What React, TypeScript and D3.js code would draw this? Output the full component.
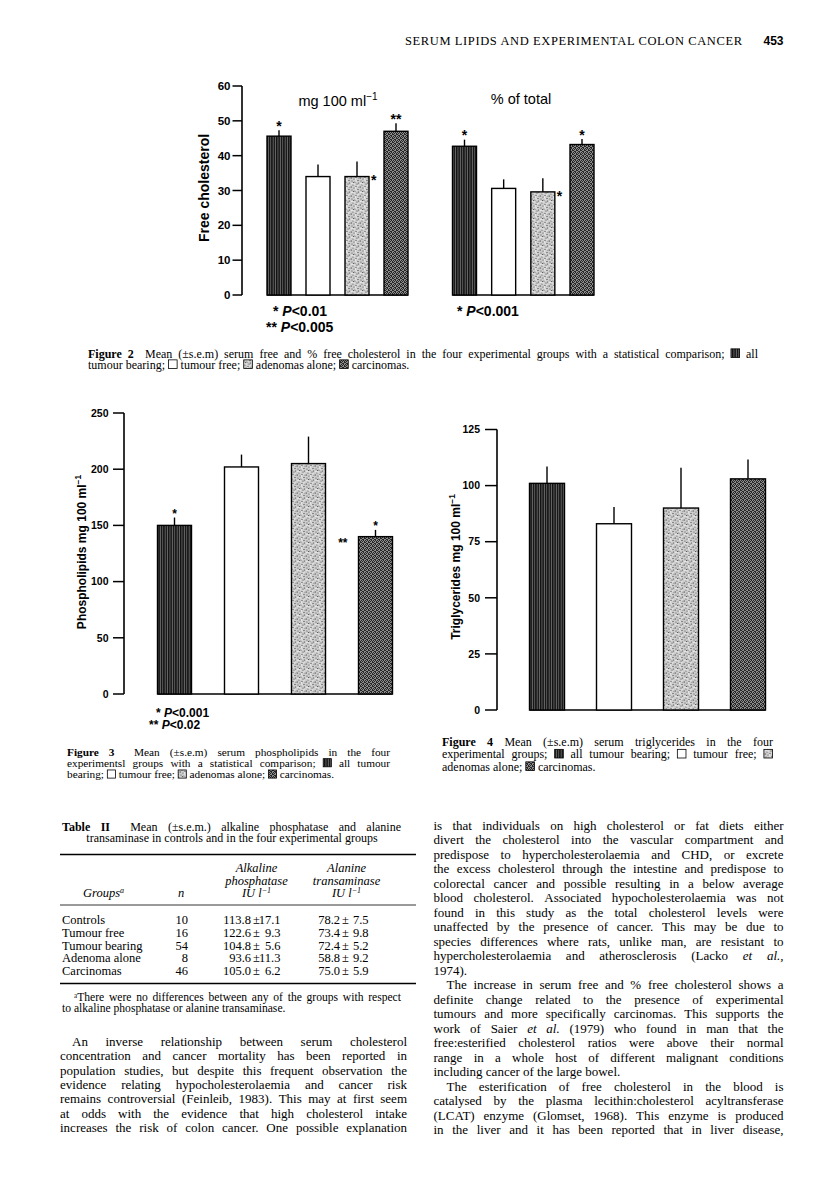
import React from "react";
import * as d3 from "d3";

// ---------- DATA ----------
const groups = ["All tumour bearing", "Tumour free", "Adenomas alone", "Carcinomas"];

const fig2MgMean = [45.6, 34.0, 34.0, 47.0];
const fig2MgSem = [1.7, 3.5, 4.3, 2.3];
const fig2PctMean = [42.7, 30.6, 29.6, 43.2];
const fig2PctSem = [1.9, 2.6, 3.9, 1.6];
const fig2Ticks = [0, 10, 20, 30, 40, 50, 60];

const fig3Mean = [150, 202, 205, 140];
const fig3Sem = [7, 11, 24, 6];
const fig3Ticks = [0, 50, 100, 150, 200, 250];

const fig4Mean = [101, 83, 90, 103];
const fig4Sem = [7.5, 7.5, 18, 8.6];
const fig4Ticks = [0, 25, 50, 75, 100, 125];

const tableGroups = ["Controls", "Tumour free", "Tumour bearing", "Adenoma alone", "Carcinomas"];
const tableN = [10, 16, 54, 8, 46];
const alkMean = [113.8, 122.6, 104.8, 93.6, 105.0];
const alkSem = [17.1, 9.3, 5.6, 11.3, 6.2];
const altMean = [78.2, 73.4, 72.4, 58.8, 75.0];
const altSem = [7.5, 9.8, 5.2, 9.2, 5.9];

// star annotations: [bar index, text, placement]
const fig2MgStars: [number, string, string][] = [[0, "*", "top"], [2, "*", "right"], [3, "**", "top"]];
const fig2PctStars: [number, string, string][] = [[0, "*", "top"], [2, "*", "right"], [3, "*", "top"]];
const fig3Stars: [number, string, string][] = [[0, "*", "top"], [3, "*", "top"], [3, "**", "left"]];

const headerText = "SERUM LIPIDS AND EXPERIMENTAL COLON CANCER";
const pageNumber = "453";

const fig2Caption = [
  "*Figure* *2* {sp} Mean (±s.e.m) serum free and % free cholesterol in the four experimental groups with a statistical comparison; {A} all",
  "tumour bearing; {T} tumour free; {D} adenomas alone; {C} carcinomas.|",
];
const fig3Caption = [
  "*Figure* *3* {sp} Mean (±s.e.m) serum phospholipids in the four",
  "experimentsl groups with a statistical comparison; {A} all tumour",
  "bearing; {T} tumour free; {D} adenomas alone; {C} carcinomas.|",
];
const fig4Caption = [
  "*Figure* *4* Mean (±s.e.m) serum triglycerides in the four",
  "experimental groups; {A} all tumour bearing; {T} tumour free; {D}",
  "adenomas alone; {C} carcinomas.|",
];
const tableTitle1 = "*Table* *II* {sp} Mean (±s.e.m.) alkaline phosphatase and alanine";
const tableTitle2 = "transaminase in controls and in the four experimental groups";
const tableFoot = [
  "ᵃThere were no differences between any of the groups with respect",
  "to alkaline phosphatase or alanine transaminase.|",
];

const leftBody = [
  ">An inverse relationship between serum cholesterol",
  "concentration and cancer mortality has been reported in",
  "population studies, but despite this frequent observation the",
  "evidence relating hypocholesterolaemia and cancer risk",
  "remains controversial (Feinleib, 1983). This may at first seem",
  "at odds with the evidence that high cholesterol intake",
  "increases the risk of colon cancer. One possible explanation",
];
const rightBody = [
  "is that individuals on high cholesterol or fat diets either",
  "divert the cholesterol into the vascular compartment and",
  "predispose to hypercholesterolaemia and CHD, or excrete",
  "the excess cholesterol through the intestine and predispose to",
  "colorectal cancer and possible resulting in a below average",
  "blood cholesterol. Associated hypocholesterolaemia was not",
  "found in this study as the total cholesterol levels were",
  "unaffected by the presence of cancer. This may be due to",
  "species differences where rats, unlike man, are resistant to",
  "hypercholesterolaemia and atherosclerosis (Lacko _et_ _al._,",
  "1974).|",
  ">The increase in serum free and % free cholesterol shows a",
  "definite change related to the presence of experimental",
  "tumours and more specifically carcinomas. This supports the",
  "work of Saier _et_ _al._ (1979) who found in man that the",
  "free:esterified cholesterol ratios were above their normal",
  "range in a whole host of different malignant conditions",
  "including cancer of the large bowel.|",
  ">The esterification of free cholesterol in the blood is",
  "catalysed by the plasma lecithin:cholesterol acyltransferase",
  "(LCAT) enzyme (Glomset, 1968). This enzyme is produced",
  "in the liver and it has been reported that in liver disease,",
];

// ---------- STYLE ----------
const SERIF = "'Liberation Serif', 'Times New Roman', serif";
const SANS = "'Liberation Sans', Arial, Helvetica, sans-serif";
const groupFill = ["url(#pStripe)", "#ffffff", "url(#pStipple)", "url(#pCheck)"];
const iconFill: Record<string, string> = { A: "url(#pStripe)", T: "#fff", D: "url(#pStipple)", C: "url(#pCheck)" };
const stippleDark = [[1, 1], [4, 2], [7, 0.5], [2, 5], [6, 4], [8, 7], [3, 8], [5, 6.5], [0.5, 7], [7.5, 3], [2.5, 2.5]];
const stippleLight = [[3, 4], [7, 6], [1, 3.5], [5, 1], [4.5, 8]];
const checkLight = [[0, 0], [2, 0], [1, 1], [3, 2], [0, 3], [2, 2], [1, 3], [3, 1]];

// ---------- TEXT HELPERS ----------
let ctx: CanvasRenderingContext2D | null = null;
function measure(text: string, size: number, italic: boolean, bold: boolean) {
  if (!ctx) ctx = document.createElement("canvas").getContext("2d");
  ctx!.font = `${italic ? "italic " : ""}${bold ? "bold " : ""}${size}px "Liberation Serif"`;
  return ctx!.measureText(text).width;
}

type Tok = { t: string; italic: boolean; bold: boolean; icon?: string; spacer?: boolean };
function parseTok(s: string): Tok {
  const m = s.match(/^\{([ATDC])\}$/);
  if (m) return { t: "", italic: false, bold: false, icon: m[1] };
  if (s === "{sp}") return { t: "", italic: false, bold: false, spacer: true };
  if (s.startsWith("_")) return { t: s.replace(/_/g, ""), italic: true, bold: false };
  if (s.startsWith("*") && s.length > 1) return { t: s.replace(/\*/g, ""), italic: false, bold: true };
  return { t: s, italic: false, bold: false };
}

function TextLine({ line, x0, x1, y, size, indent = 0 }: { line: string; x0: number; x1: number; y: number; size: number; indent?: number }) {
  let s = line;
  let justify = true;
  let start = x0;
  if (s.startsWith(">")) { s = s.slice(1); start = x0 + indent; }
  if (s.endsWith("|")) { s = s.slice(0, -1); justify = false; }
  const toks = s.split(" ").map(parseTok);
  const widths = toks.map((k) => (k.icon ? size * 0.8 : k.spacer ? -size * 0.05 : measure(k.t, size, k.italic, k.bold)));
  const total = widths.reduce((a, b) => a + b, 0);
  const space = measure(" ", size, false, false);
  let gap = space;
  if (justify && toks.length > 1) gap = Math.max(1.2, (x1 - start - total) / (toks.length - 1));
  let x = start;
  const els: React.ReactNode[] = [];
  toks.forEach((k, i) => {
    if (k.icon) {
      const b = size * 0.72;
      els.push(
        <rect key={i} x={x + 0.5} y={y - b} width={b} height={b} fill={iconFill[k.icon]} stroke="#000" strokeWidth={0.8} />
      );
    } else if (!k.spacer) {
      els.push(
        <text key={i} x={x} y={y} fontFamily={SERIF} fontSize={size} fontStyle={k.italic ? "italic" : "normal"} fontWeight={k.bold ? "bold" : "normal"}>
          {k.t}
        </text>
      );
    }
    x += widths[i] + gap;
  });
  return <g>{els}</g>;
}

function Block({ lines, x0, x1, y0, dy, size, indent = 0 }: { lines: string[]; x0: number; x1: number; y0: number; dy: number; size: number; indent?: number }) {
  return (
    <g>
      {lines.map((l, i) => (
        <TextLine key={i} line={l} x0={x0} x1={x1} y={y0 + i * dy} size={size} indent={indent} />
      ))}
    </g>
  );
}

// ---------- CHART HELPERS ----------
function Axis({ y, x, ticks, tickLen, labelGap, fontSize }: { y: d3.ScaleLinear<number, number>; x: number; ticks: number[]; tickLen: number; labelGap: number; fontSize: number }) {
  const [lo, hi] = y.domain();
  return (
    <g>
      <line x1={x} x2={x} y1={y(lo)} y2={y(hi)} stroke="#000" strokeWidth={1.6} />
      {ticks.map((t) => (
        <g key={t}>
          <line x1={x - tickLen} x2={x} y1={y(t)} y2={y(t)} stroke="#000" strokeWidth={1.5} />
          <text x={x - tickLen - labelGap} y={y(t)} dy="0.36em" textAnchor="end" fontFamily={SANS} fontWeight="bold" fontSize={fontSize}>
            {t}
          </text>
        </g>
      ))}
    </g>
  );
}

function Bars({ x, y, means, sems, width, stars, starSize, leftOffset = 10 }: { x: d3.ScalePoint<string>; y: d3.ScaleLinear<number, number>; means: number[]; sems: number[]; width: number; stars: [number, string, string][]; starSize: number; leftOffset?: number }) {
  const y0 = y(0);
  const first = x(groups[0])! - width / 2;
  const last = x(groups[groups.length - 1])! + width / 2;
  return (
    <g>
      <line x1={first} x2={last} y1={y0} y2={y0} stroke="#000" strokeWidth={1.5} />
      {groups.map((g, i) => {
        const c = x(g)!;
        return (
          <g key={g}>
            <line x1={c} x2={c} y1={y(means[i])} y2={y(means[i] + sems[i])} stroke="#000" strokeWidth={1.4} />
            <rect x={c - width / 2} y={y(means[i])} width={width} height={y0 - y(means[i])} fill={groupFill[i]} stroke="#000" strokeWidth={1.4} />
          </g>
        );
      })}
      {stars.map(([i, s, pos], k) => {
        const c = x(groups[i])!;
        if (pos === "top")
          return (
            <text key={k} x={c} y={y(means[i] + sems[i]) + starSize * 0.05} textAnchor="middle" fontFamily={SANS} fontWeight="bold" fontSize={starSize}>
              {s}
            </text>
          );
        if (pos === "right")
          return (
            <text key={k} x={c + width / 2 + 2} y={y(means[i]) + starSize * 0.62} fontFamily={SANS} fontWeight="bold" fontSize={starSize}>
              {s}
            </text>
          );
        return (
          <text key={k} x={c - width / 2 - leftOffset} y={y(means[i]) + starSize * 0.85} textAnchor="end" fontFamily={SANS} fontWeight="bold" fontSize={starSize}>
            {s}
          </text>
        );
      })}
    </g>
  );
}

function PLabel({ x, y, stars, p, size }: { x: number; y: number; stars: string; p: string; size: number }) {
  return (
    <text x={x} y={y} fontFamily={SANS} fontWeight="bold" fontSize={size}>
      {stars} <tspan fontStyle="italic">P</tspan>
      {p}
    </text>
  );
}

function YLabel({ x, y, text, sup, size }: { x: number; y: number; text: string; sup?: string; size: number }) {
  return (
    <text transform={`translate(${x},${y}) rotate(-90)`} textAnchor="middle" fontFamily={SANS} fontWeight="bold" fontSize={size}>
      {text}
      {sup && (
        <tspan fontSize={size * 0.7} dy={-size * 0.4}>
          {sup}
        </tspan>
      )}
    </text>
  );
}

export default function App() {
  // Figure 2
  const y2 = d3.scaleLinear().domain([0, 60]).range([295, 86]);
  const x2a = d3.scalePoint<string>().domain(groups).range([279, 396]);
  const x2b = d3.scalePoint<string>().domain(groups).range([464.5, 582]);
  // Figure 3
  const y3 = d3.scaleLinear().domain([0, 250]).range([694, 413]);
  const x3 = d3.scalePoint<string>().domain(groups).range([174.5, 375.5]);
  // Figure 4
  const y4 = d3.scaleLinear().domain([0, 125]).range([710, 429.5]);
  const x4 = d3.scalePoint<string>().domain(groups).range([547, 748]);
  // Table
  const rowY = d3.scalePoint<string>().domain(tableGroups).range([924, 975]);

  const tsize = 12.5;
  const fmt = d3.format(".1f");

  return (
    <svg width={816} height={1201} style={{ position: "absolute", left: 0, top: 0, background: "#fff" }}>
      <defs>
        <pattern id="pStripe" width={2.4} height={4} patternUnits="userSpaceOnUse">
          <rect width={2.4} height={4} fill="#111" />
          <rect x={1.5} width={0.7} height={4} fill="#8a8a8a" />
        </pattern>
        <pattern id="pCheck" width={4} height={4} patternUnits="userSpaceOnUse">
          <rect width={4} height={4} fill="#262626" />
          {checkLight.map(([a, b], i) => (
            <rect key={i} x={a} y={b} width={1} height={1} fill="#8c8c8c" />
          ))}
        </pattern>
        <pattern id="pStipple" width={9} height={9} patternUnits="userSpaceOnUse">
          <rect width={9} height={9} fill="#cdcdcd" />
          {stippleDark.map(([a, b], i) => (
            <circle key={"d" + i} cx={a} cy={b} r={0.6} fill="#4a4a4a" />
          ))}
          {stippleLight.map(([a, b], i) => (
            <circle key={"l" + i} cx={a} cy={b} r={0.7} fill="#f4f4f4" />
          ))}
        </pattern>
      </defs>
      <rect width={816} height={1201} fill="#fff" />

      {/* Header */}
      <text x={405} y={44.5} fontFamily={SERIF} fontSize={12.5} textLength={337} lengthAdjust="spacing">
        {headerText}
      </text>
      <text x={783.5} y={44.5} textAnchor="end" fontFamily={SANS} fontWeight="bold" fontSize={12}>
        {pageNumber}
      </text>

      {/* Figure 2 */}
      <Axis y={y2} x={242} ticks={fig2Ticks} tickLen={9.5} labelGap={2} fontSize={11.5} />
      <YLabel x={209} y={188} text="Free cholesterol" size={14} />
      <text x={338} y={105.5} textAnchor="middle" fontFamily={SANS} fontSize={14.5}>
        mg 100 ml<tspan fontSize={10} dy={-6}>−1</tspan>
      </text>
      <text x={521} y={103.5} textAnchor="middle" fontFamily={SANS} fontSize={14.5}>
        % of total
      </text>
      <Bars x={x2a} y={y2} means={fig2MgMean} sems={fig2MgSem} width={24} stars={fig2MgStars} starSize={14} />
      <Bars x={x2b} y={y2} means={fig2PctMean} sems={fig2PctSem} width={24} stars={fig2PctStars} starSize={14} />
      <PLabel x={273} y={315.5} stars="*" p="<0.01" size={14} />
      <PLabel x={266} y={331.5} stars="**" p="<0.005" size={14} />
      <PLabel x={457} y={315.5} stars="*" p="<0.001" size={14} />

      <Block lines={fig2Caption} x0={88} x1={758} y0={357.5} dy={11} size={12} />

      {/* Figure 3 */}
      <Axis y={y3} x={124} ticks={fig3Ticks} tickLen={11} labelGap={4.5} fontSize={10.5} />
      <YLabel x={86} y={552} text="Phospholipids mg 100 ml" sup="−1" size={12} />
      <Bars x={x3} y={y3} means={fig3Mean} sems={fig3Sem} width={34} stars={fig3Stars} starSize={12} leftOffset={11} />
      <PLabel x={156} y={717} stars="*" p="<0.001" size={12} />
      <PLabel x={149} y={728.5} stars="**" p="<0.02" size={12} />
      <Block lines={fig3Caption} x0={67} x1={390} y0={755.5} dy={11.3} size={11.3} />

      {/* Figure 4 */}
      <Axis y={y4} x={497} ticks={fig4Ticks} tickLen={12} labelGap={5} fontSize={10.5} />
      <YLabel x={459.5} y={567} text="Triglycerides mg 100 ml" sup="−1" size={12} />
      <Bars x={x4} y={y4} means={fig4Mean} sems={fig4Sem} width={35} stars={[]} starSize={12} />
      <Block lines={fig4Caption} x0={442} x1={773} y0={745.5} dy={12.5} size={12} />

      {/* Table II */}
      <TextLine line={tableTitle1} x0={62} x1={401} y={830.5} size={12} />
      <text x={232} y={841.8} textAnchor="middle" fontFamily={SERIF} fontSize={12}>
        {tableTitle2}
      </text>
      <line x1={60} x2={416} y1={854.5} y2={854.5} stroke="#000" strokeWidth={1.5} />
      <g fontFamily={SERIF} fontSize={tsize} fontStyle="italic">
        <text x={256.5} y={872} textAnchor="middle">Alkaline</text>
        <text x={256.5} y={884.5} textAnchor="middle">phosphatase</text>
        <text x={256.5} y={897} textAnchor="middle">
          IU l<tspan fontSize={8} dy={-4.5}>−1</tspan>
        </text>
        <text x={346.5} y={872} textAnchor="middle">Alanine</text>
        <text x={346.5} y={884.5} textAnchor="middle">transaminase</text>
        <text x={346.5} y={897} textAnchor="middle">
          IU l<tspan fontSize={8} dy={-4.5}>−1</tspan>
        </text>
        <text x={83} y={897}>
          Groups<tspan fontSize={8} dy={-4.5}>a</tspan>
        </text>
        <text x={178} y={897}>n</text>
      </g>
      <line x1={60} x2={416} y1={905} y2={905} stroke="#000" strokeWidth={0.8} />
      <g fontFamily={SERIF} fontSize={tsize}>
        {tableGroups.map((g, i) => {
          const yy = rowY(g)!;
          return (
            <g key={g}>
              <text x={62} y={yy}>{g}</text>
              <text x={188} y={yy} textAnchor="end">{tableN[i]}</text>
              <text x={251} y={yy} textAnchor="end">{fmt(alkMean[i])}</text>
              <text x={256.5} y={yy} textAnchor="middle">±</text>
              <text x={280.5} y={yy} textAnchor="end">{fmt(alkSem[i])}</text>
              <text x={340} y={yy} textAnchor="end">{fmt(altMean[i])}</text>
              <text x={345.5} y={yy} textAnchor="middle">±</text>
              <text x={368.5} y={yy} textAnchor="end">{fmt(altSem[i])}</text>
            </g>
          );
        })}
      </g>
      <line x1={60} x2={416} y1={983.5} y2={983.5} stroke="#000" strokeWidth={1.5} />
      <TextLine line={tableFoot[0]} x0={74} x1={401} y={1000.5} size={11.6} />
      <TextLine line={tableFoot[1]} x0={62} x1={401} y={1011.5} size={11.6} />

      {/* Body text */}
      <Block lines={leftBody} x0={60} x1={407} y0={1046} dy={14.3} size={13} indent={12} />
      <Block lines={rightBody} x0={433.5} x1={783.5} y0={829.5} dy={14.5} size={13} indent={13} />
    </svg>
  );
}
